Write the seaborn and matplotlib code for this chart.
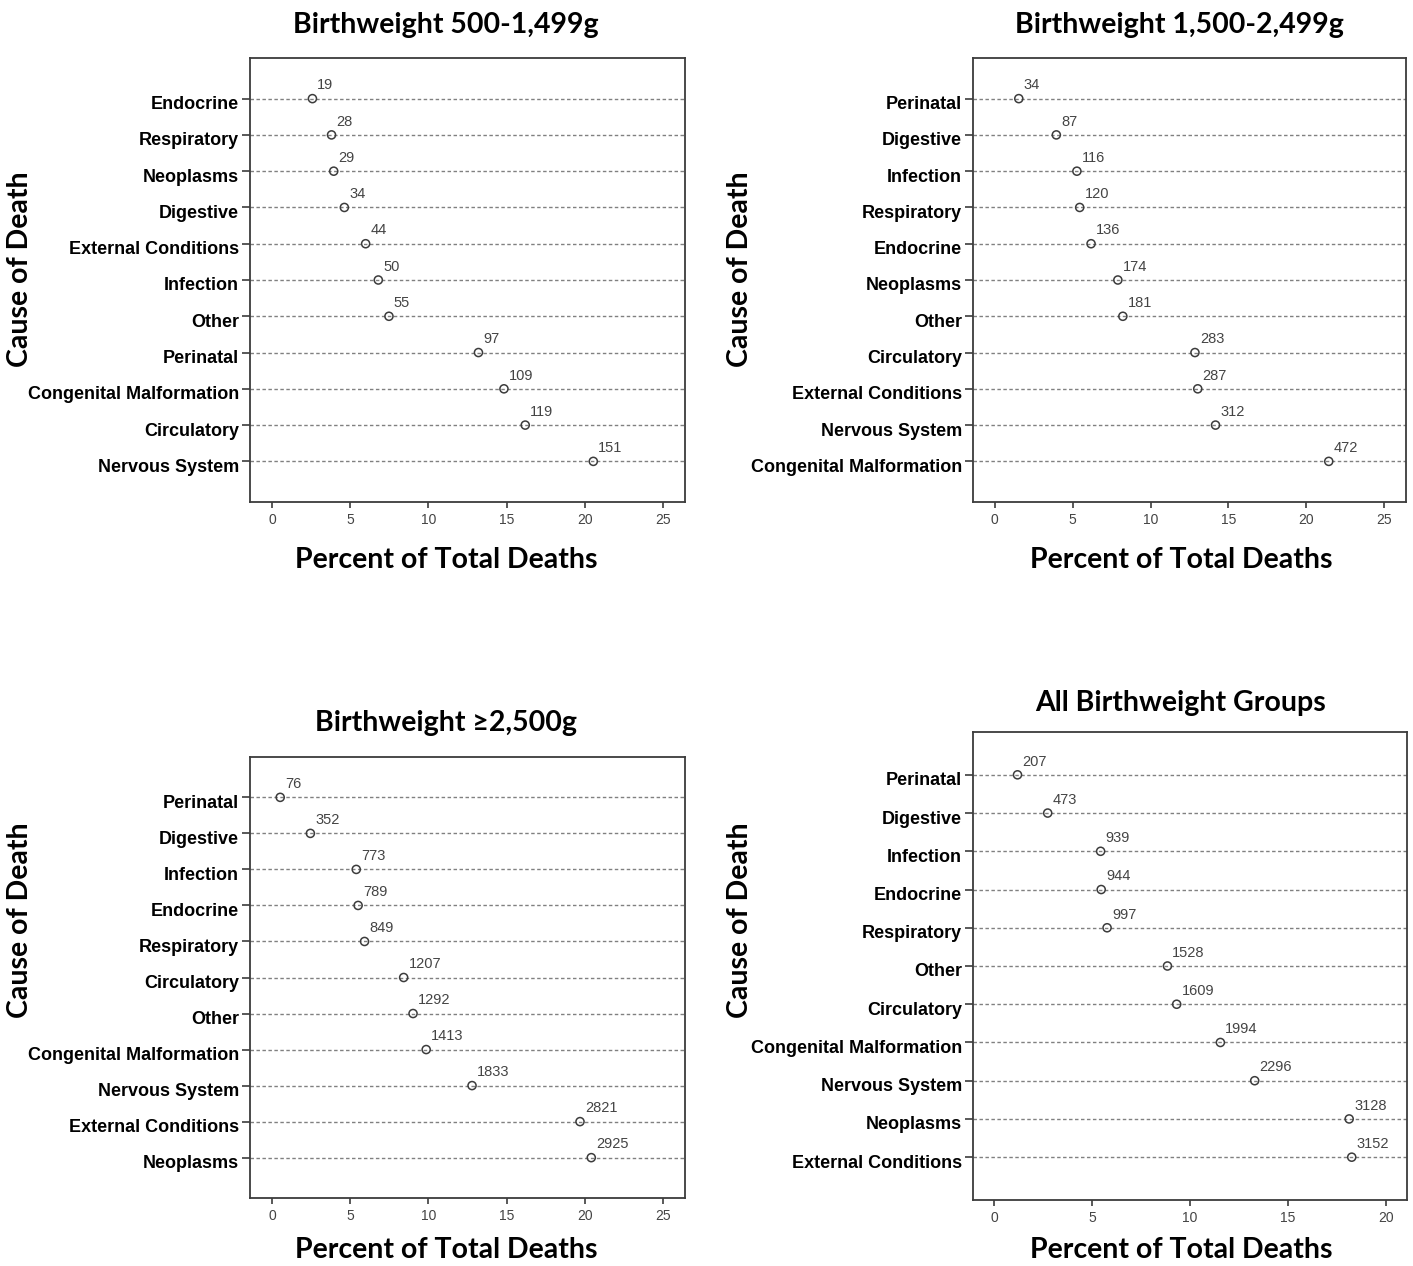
"""Cause of death dot plots by birthweight group"""
import matplotlib
matplotlib.use('Agg')
import matplotlib.pyplot as plt
import matplotlib.transforms as mtransforms
import pandas as pd
import seaborn as sns

# panel titles
titles = ['Birthweight 500-1,499g', 'Birthweight 1,500-2,499g',
          'Birthweight \u22652,500g', 'All Birthweight Groups']

# causes, top to bottom, for each panel
causes_1 = ['Endocrine', 'Respiratory', 'Neoplasms', 'Digestive', 'External Conditions',
            'Infection', 'Other', 'Perinatal', 'Congenital Malformation', 'Circulatory',
            'Nervous System']
causes_2 = ['Perinatal', 'Digestive', 'Infection', 'Respiratory', 'Endocrine', 'Neoplasms',
            'Other', 'Circulatory', 'External Conditions', 'Nervous System',
            'Congenital Malformation']
causes_3 = ['Perinatal', 'Digestive', 'Infection', 'Endocrine', 'Respiratory', 'Circulatory',
            'Other', 'Congenital Malformation', 'Nervous System', 'External Conditions',
            'Neoplasms']
causes_4 = ['Perinatal', 'Digestive', 'Infection', 'Endocrine', 'Respiratory', 'Other',
            'Circulatory', 'Congenital Malformation', 'Nervous System', 'Neoplasms',
            'External Conditions']

# number of deaths (point labels)
deaths_1 = [19, 28, 29, 34, 44, 50, 55, 97, 109, 119, 151]
deaths_2 = [34, 87, 116, 120, 136, 174, 181, 283, 287, 312, 472]
deaths_3 = [76, 352, 773, 789, 849, 1207, 1292, 1413, 1833, 2821, 2925]
deaths_4 = [207, 473, 939, 944, 997, 1528, 1609, 1994, 2296, 3128, 3152]

# percent of total deaths (x position)
pct_1 = [2.59, 3.81, 3.95, 4.63, 5.99, 6.80, 7.48, 13.20, 14.83, 16.19, 20.54]
pct_2 = [1.54, 3.95, 5.27, 5.45, 6.18, 7.90, 8.22, 12.85, 13.03, 14.17, 21.44]
pct_3 = [0.53, 2.46, 5.39, 5.51, 5.92, 8.42, 9.02, 9.86, 12.79, 19.69, 20.41]
pct_4 = [1.20, 2.74, 5.44, 5.47, 5.77, 8.85, 9.32, 11.55, 13.30, 18.12, 18.25]

x_ticks_25 = [0, 5, 10, 15, 20, 25]
x_ticks_20 = [0, 5, 10, 15, 20]

sns.set_style('white')
plt.rcParams['font.family'] = ['Liberation Sans Narrow', 'Liberation Sans', 'DejaVu Sans']

W, H = 1413, 1266
fig = plt.figure(figsize=(W / 100, H / 100), dpi=100)

# (left, right, top, bottom) in pixels, xlim, ticks, title pos, xlabel pos, ylabel pos
panels = [
    (causes_1, deaths_1, pct_1, (250, 685, 58, 502), (-1.4, 26.4), x_ticks_25,
     (446, 25), (446, 560), (20, 269)),
    (causes_2, deaths_2, pct_2, (973, 1406, 58, 502), (-1.4, 26.4), x_ticks_25,
     (1179, 25), (1181, 560), (740, 269)),
    (causes_3, deaths_3, pct_3, (250, 685, 757, 1198), (-1.4, 26.4), x_ticks_25,
     (446, 723), (446, 1250), (20, 920)),
    (causes_4, deaths_4, pct_4, (973, 1407, 732, 1200), (-1.07, 21.07), x_ticks_20,
     (1181, 703), (1181, 1250), (740, 920)),
]

head_font = ['Lato', 'DejaVu Sans']
edge = '#3c3c3c'

for i, (causes, deaths, pct, box, xlim, xticks, tpos, xlpos, ylpos) in enumerate(panels):
    l, r, t, b = box
    ax = fig.add_axes([l / W, (H - b) / H, (r - l) / W, (b - t) / H])
    df = pd.DataFrame({'cause': causes, 'pct': pct, 'deaths': deaths})

    for j in range(len(causes)):
        ax.axhline(j, color='#808080', lw=1.0, ls=(0, (2.5, 1.8)), zorder=1)

    sns.scatterplot(data=df, x='pct', y='cause', ax=ax, marker='o', s=34,
                    facecolor='none', edgecolor=edge, linewidth=1.1, zorder=3)

    for _, row in df.iterrows():
        ax.annotate(str(row['deaths']), (row['pct'], row['cause']),
                    xytext=(3.5, 4.5), textcoords='offset points',
                    ha='left', va='bottom', fontsize=10.5, color='#444444')

    ax.set_xlim(*xlim)
    ax.set_ylim(len(causes) - 1 + 1.12, -1.12)
    ax.set_xticks(xticks)
    ax.set_xlabel('')
    ax.set_ylabel('')
    ax.tick_params(axis='y', left=True, length=6, width=1.2, color=edge,
                   labelsize=13, labelcolor='black', pad=2)
    ax.tick_params(axis='x', bottom=True, length=4, width=1.2, color=edge,
                   labelsize=10, labelcolor='#444444', pad=4)
    for lab in ax.get_yticklabels():
        lab.set_fontweight('bold')
        lab.set_transform(lab.get_transform() +
                          mtransforms.ScaledTranslation(0, -4 / 100, fig.dpi_scale_trans))
    for s in ax.spines.values():
        s.set_color(edge)
        s.set_linewidth(1.3)

    fig.text(tpos[0] / W, 1 - tpos[1] / H, titles[i], ha='center', va='center',
             fontsize=20.5, fontweight='bold', family=head_font, color='black')
    fig.text(xlpos[0] / W, 1 - xlpos[1] / H, 'Percent of Total Deaths', ha='center',
             va='center', fontsize=20.5, fontweight='bold', family=head_font, color='black')
    fig.text(ylpos[0] / W, 1 - ylpos[1] / H, 'Cause of Death', ha='center', va='center',
             rotation=90, fontsize=20.5, fontweight='bold', family=head_font, color='black')

fig.savefig('out.png', dpi=100)
